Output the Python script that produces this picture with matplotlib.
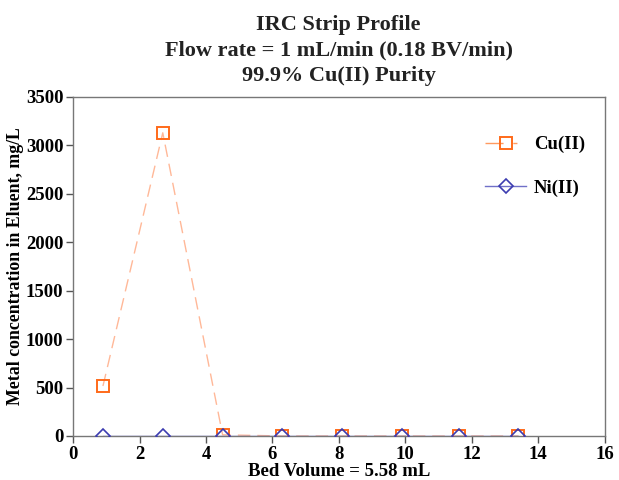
import matplotlib
matplotlib.use("Agg")
import matplotlib.pyplot as plt
from matplotlib.lines import Line2D

bed_volume = [0.9, 2.7, 4.5, 6.3, 8.1, 9.9, 11.6, 13.4]
cu = [516, 3130, 12, 0, 0, 0, 0, 0]
ni = [0, 0, 0, 0, 0, 0, 0, 0]

plt.rcParams['font.family'] = ['Liberation Serif', 'DejaVu Serif']
plt.rcParams['font.weight'] = 'bold'

fig = plt.figure(figsize=(6.19, 4.8), dpi=100)
ax = fig.add_axes([0.118, 0.0917, 0.859, 0.7063])

cu_line = '#FFB898'
cu_mark = '#FF6A1A'
ni_line = '#7070C8'
ni_mark = '#3C3CB0'

ax.plot(bed_volume, cu, color=cu_line, lw=1.0, linestyle=(0, (9, 5)), zorder=2)
ax.plot(bed_volume, cu, linestyle='none', marker='s', markersize=8, markerfacecolor='none',
        markeredgecolor=cu_mark, markeredgewidth=1.4, zorder=3)
ax.plot(bed_volume, ni, color=ni_line, lw=1.0, zorder=4)
ax.plot(bed_volume, ni, linestyle='none', marker='D', markersize=7, markerfacecolor='none',
        markeredgecolor=ni_mark, markeredgewidth=1.2, zorder=5)

ax.set_xlim(0, 16)
ax.set_ylim(0, 3500)
ax.set_xticks(range(0, 17, 2))
ax.set_yticks(range(0, 3501, 500))
ax.tick_params(direction='out', length=5, width=1, labelsize=13.5, color='#555555', pad=2)
for lab in ax.get_xticklabels() + ax.get_yticklabels():
    lab.set_fontweight('bold')
for s in ax.spines.values():
    s.set_color('#777777')
    s.set_linewidth(1.0)

ax.set_xlabel('Bed Volume = 5.58 mL', fontsize=13.5, fontweight='bold', labelpad=0)
ax.set_ylabel('Metal concentration in Eluent, mg/L', fontsize=12.8, fontweight='bold', labelpad=1)

fig.text(0.547, 0.968, 'IRC Strip Profile\nFlow rate = 1 mL/min (0.18 BV/min)\n99.9% Cu(II) Purity',
         ha='center', va='top', fontsize=16, fontweight='bold', linespacing=1.36,
         color='#222222')

h_cu = Line2D([], [], color='#FF9A60', lw=1.0, linestyle=(0, (13, 7, 3, 20)), marker='s',
              markersize=8, markerfacecolor='none', markeredgecolor=cu_mark, markeredgewidth=1.4)
h_ni = Line2D([], [], color=ni_line, lw=1.0, marker='D', markersize=7, markerfacecolor='none',
              markeredgecolor=ni_mark, markeredgewidth=1.2)
ax.legend([h_cu, h_ni], ['Cu(II)', 'Ni(II)'], loc='upper left', bbox_to_anchor=(0.743, 0.935),
          frameon=False, prop={'weight': 'bold', 'size': 13.5}, labelspacing=1.4,
          handlelength=2.2, handletextpad=0.4)

fig.savefig('out.png', dpi=100)
